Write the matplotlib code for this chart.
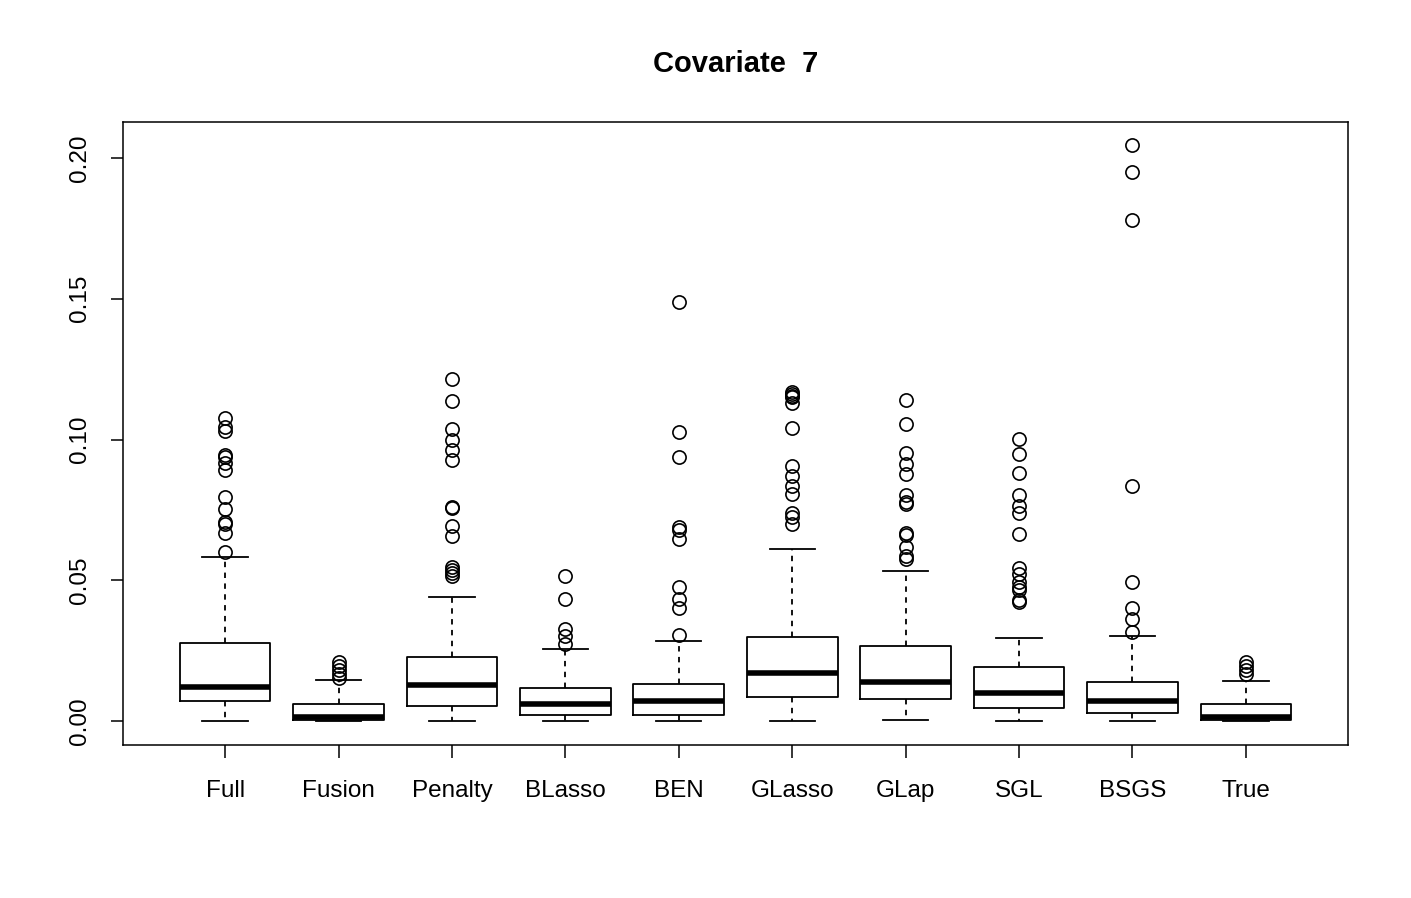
import matplotlib
matplotlib.use('Agg')
import matplotlib.pyplot as plt

plt.rcParams['font.family'] = ['Liberation Sans', 'DejaVu Sans']

methods = ['Full', 'Fusion', 'Penalty', 'BLasso', 'BEN', 'GLasso', 'GLap', 'SGL', 'BSGS', 'True']

# box summaries
whis_lo = [0.0000, 0.0000, 0.0000, 0.0001, 0.0000, 0.0000, 0.0004, 0.0000, 0.0000, 0.0000]
q1 = [0.0072, 0.0003, 0.0054, 0.0021, 0.0021, 0.0086, 0.0077, 0.0045, 0.0027, 0.0004]
medians = [0.0122, 0.0013, 0.0128, 0.0059, 0.0071, 0.0169, 0.0140, 0.0101, 0.0072, 0.0015]
q3 = [0.0278, 0.0062, 0.0228, 0.0116, 0.0130, 0.0298, 0.0266, 0.0191, 0.0140, 0.0059]
whis_hi = [0.0583, 0.0146, 0.0440, 0.0255, 0.0284, 0.0610, 0.0533, 0.0296, 0.0303, 0.0142]

outliers = [
    [0.1077, 0.1046, 0.1031, 0.0945, 0.0937, 0.0915, 0.0892, 0.0797, 0.0753,
     0.0708, 0.0700, 0.0667, 0.0602],
    [0.0211, 0.0195, 0.0181, 0.0167, 0.0154],
    [0.1215, 0.1138, 0.1036, 0.0998, 0.0963, 0.0927, 0.0762, 0.0756, 0.0694,
     0.0657, 0.0548, 0.0536, 0.0525, 0.0515],
    [0.0515, 0.0432, 0.0326, 0.0302, 0.0274],
    [0.1487, 0.1028, 0.0938, 0.0690, 0.0678, 0.0647, 0.0475, 0.0432, 0.0400, 0.0304],
    [0.1168, 0.1162, 0.1156, 0.1150, 0.1131, 0.1040, 0.0906, 0.0870, 0.0836,
     0.0806, 0.0740, 0.0726, 0.0699],
    [0.1140, 0.1054, 0.0951, 0.0912, 0.0876, 0.0803, 0.0779, 0.0770, 0.0667,
     0.0661, 0.0619, 0.0586, 0.0577],
    [0.1001, 0.0947, 0.0880, 0.0803, 0.0764, 0.0738, 0.0663, 0.0542, 0.0522,
     0.0495, 0.0477, 0.0465, 0.0430, 0.0422],
    [0.2046, 0.1950, 0.1780, 0.0836, 0.0493, 0.0400, 0.0362, 0.0315],
    [0.0211, 0.0195, 0.0181, 0.0167],
]

stats = []
for i in range(len(methods)):
    stats.append(dict(label=methods[i], whislo=whis_lo[i], q1=q1[i], med=medians[i],
                      q3=q3[i], whishi=whis_hi[i], fliers=outliers[i]))

fig = plt.figure(figsize=(14.11, 8.98), dpi=100)
ax = fig.add_axes([123 / 1411, 1 - 745 / 898, 1225 / 1411, 623 / 898])

ax.bxp(stats, widths=0.8, capwidths=0.4,
       boxprops=dict(color='black', linewidth=1.3),
       medianprops=dict(color='black', linewidth=4),
       whiskerprops=dict(color='black', linewidth=1.3, linestyle=(0, (3, 3))),
       capprops=dict(color='black', linewidth=1.3),
       flierprops=dict(marker='o', markerfacecolor='none', markeredgecolor='black',
                       markersize=9.5, markeredgewidth=1.2))

ax.set_xlim(0.1, 10.9)
ax.set_ylim(-0.0085, 0.2128)
ax.set_yticks([0.0, 0.05, 0.10, 0.15, 0.20])
ax.set_yticklabels(['0.00', '0.05', '0.10', '0.15', '0.20'], rotation=90, va='center')
ax.tick_params(axis='both', labelsize=17.5, length=9, width=1.1, direction='out')
ax.tick_params(axis='x', pad=16)
ax.tick_params(axis='y', pad=14)
for s in ax.spines.values():
    s.set_linewidth(1.1)

ax.set_title('Covariate  7', fontsize=21, fontweight='bold', pad=36)

fig.savefig('out.png', dpi=100)
